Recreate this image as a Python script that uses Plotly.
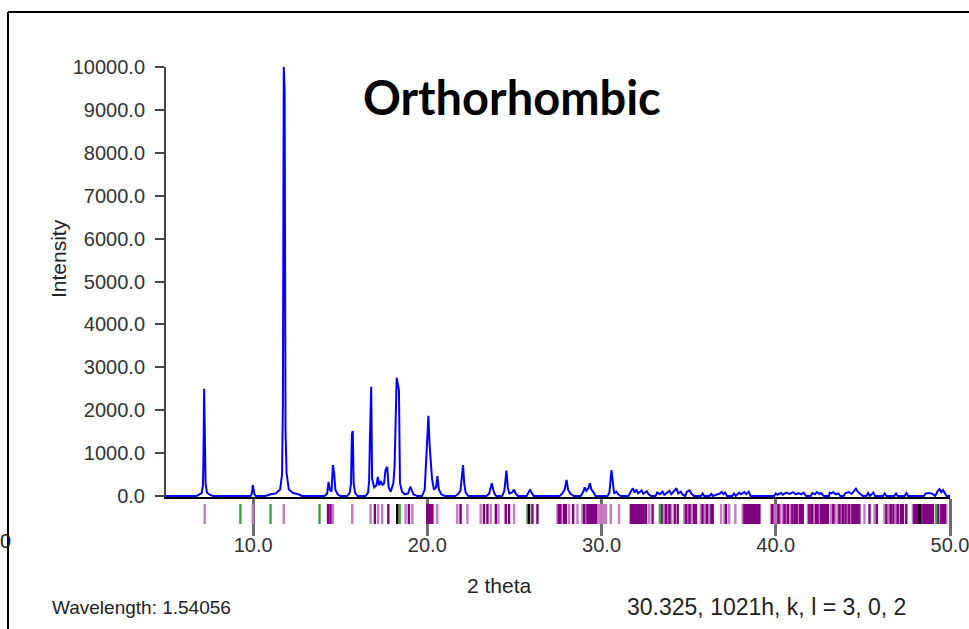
import plotly.graph_objects as go

# ---------------- data ----------------
two_theta = [5.0, 6.75, 6.9, 7.05, 7.12, 7.15, 7.19, 7.23, 7.27, 7.35, 7.5, 7.7,
             9.85, 9.93, 9.98, 10.03, 10.08, 10.15,
             10.7, 11.0, 11.3, 11.55, 11.66, 11.71, 11.76, 11.81, 11.86, 11.92, 12.05, 12.3, 12.6, 12.8,
             14.1, 14.25, 14.33, 14.4, 14.5, 14.58, 14.65, 14.72, 14.85, 15.0,
             15.4, 15.55, 15.62, 15.67, 15.72, 15.77, 15.85, 16.0,
             16.45, 16.6, 16.66, 16.7, 16.78, 16.83, 16.95, 17.08, 17.16, 17.24, 17.33, 17.42, 17.52, 17.6,
             17.7, 17.78, 17.9, 18.05, 18.12, 18.24, 18.37, 18.43, 18.55, 18.7, 18.9, 19.02, 19.1, 19.2, 19.4,
             19.7, 19.85, 19.94, 20.06, 20.13, 20.2, 20.27, 20.38, 20.5, 20.58, 20.66, 20.8, 21.0,
             21.6, 21.75, 21.9, 21.98, 22.05, 22.12, 22.2, 22.35,
             23.4, 23.55, 23.62, 23.7, 23.78, 23.85, 23.95,
             24.3, 24.42, 24.54, 24.62, 24.7, 24.85, 24.98, 25.06, 25.2,
             25.7, 25.8, 25.9, 25.98, 26.1,
             27.6, 27.75, 27.88, 27.99, 28.08, 28.2, 28.4,
             28.8, 28.95, 29.03, 29.12, 29.25, 29.33, 29.42, 29.55, 29.65,
             30.35, 30.45, 30.57, 30.65, 30.72, 30.85, 30.95, 31.1,
             31.55, 31.7, 31.8, 31.9, 32.0, 32.1, 32.3, 32.4, 32.6, 32.7, 32.85,
             33.1, 33.2, 33.35, 33.5, 33.6, 33.8, 33.9, 34.0, 34.2, 34.3, 34.4, 34.55, 34.65, 34.8,
             34.9, 35.05, 35.15, 35.3, 35.7, 35.8, 35.9, 36.2, 36.3, 36.4,
             36.8, 36.9, 37.0, 37.1, 37.2, 37.5, 37.6, 37.7, 37.9, 38.0, 38.2, 38.3, 38.45, 38.55,
             39.9, 40.0, 40.1, 40.3, 40.4, 40.6, 40.8, 41.0, 41.15, 41.3, 41.45, 41.6, 41.75,
             42.0, 42.1, 42.25, 42.35, 42.5, 42.6, 42.75,
             43.05, 43.1, 43.2, 43.3, 43.45, 43.6, 43.7,
             43.9, 44.0, 44.2, 44.35, 44.5, 44.6, 44.7, 44.85, 45.0,
             45.2, 45.3, 45.4, 45.6, 45.7, 46.15, 46.25, 46.35, 46.8, 46.9, 47.0, 47.4, 47.5, 47.6,
             48.5, 48.6, 48.8, 49.0, 49.15, 49.3, 49.4, 49.5, 49.6, 49.7, 49.8, 50.0]
intensity = [0, 0, 30, 70, 250, 840, 2500, 1730, 300, 80, 30, 0,
             0, 60, 256, 150, 40, 0,
             0, 40, 60, 150, 500, 2120, 10000, 9430, 1540, 540, 150, 70, 40, 0,
             0, 60, 330, 150, 100, 720, 545, 150, 40, 0,
             0, 80, 300, 1445, 1515, 300, 80, 0,
             0, 80, 350, 1266, 2548, 400, 200, 250, 443, 250, 350, 250, 300, 606,
             683, 200, 100, 300, 683, 2758, 2471, 300, 100, 40, 60, 217, 150, 40, 0,
             0, 150, 1033, 1872, 1190, 720, 400, 150, 200, 466, 150, 40, 0,
             0, 40, 120, 530, 720, 280, 80, 0,
             0, 60, 180, 295, 150, 60, 0,
             0, 120, 590, 200, 60, 80, 150, 60, 0,
             0, 60, 150, 80, 0,
             0, 60, 150, 373, 150, 60, 0,
             0, 100, 200, 120, 180, 295, 150, 80, 0,
             0, 80, 606, 200, 60, 100, 40, 0,
             0, 120, 180, 80, 150, 60, 130, 50, 110, 40, 0,
             0, 80, 40, 100, 30, 80, 120, 40, 120, 180, 60, 100, 30, 0,
             100, 130, 60, 0, 0, 60, 0, 0, 50, 0,
             60, 100, 40, 80, 0, 0, 60, 0, 80, 40, 90, 40, 100, 0,
             0, 60, 30, 70, 30, 80, 50, 90, 40, 70, 40, 80, 0,
             0, 70, 40, 90, 50, 70, 0,
             0, 80, 60, 90, 40, 60, 0,
             0, 70, 90, 50, 140, 170, 100, 60, 0,
             0, 70, 0, 80, 0, 0, 60, 0, 0, 60, 0, 0, 70, 0,
             0, 60, 70, 50, 0, 120, 160, 90, 140, 60, 0, 0]

marks_light = [7.22, 9.98, 11.76, 14.58, 15.69, 16.74, 17.18, 17.41, 18.75, 19.14, 20.57,
               21.72, 22.3, 23.06, 23.64, 24.08, 24.98, 27.47, 27.7, 28.14, 28.62, 28.9, 29.1,
               29.77, 29.9, 30.05, 30.15, 30.25, 30.53, 31.0, 32.74, 33.6, 33.8, 34.0, 34.75,
               34.95, 35.15, 35.7, 35.95, 36.15, 36.86, 37.05, 37.33, 37.68, 38.1, 39.73, 39.9,
               40.05, 40.25, 40.4, 40.6, 40.85, 41.0, 41.3, 41.85, 42.0, 42.15, 42.5, 43.18,
               43.4, 43.55, 43.75, 44.1, 44.3, 45.09, 45.67, 46.24, 46.5, 46.9, 47.1, 47.87,
               48.4, 49.4, 49.79]
marks_dark = [14.3, 14.44, 16.99, 17.76, 18.94, 20.0, 20.06, 20.12, 20.18, 20.24, 20.29,
              21.91, 23.25, 23.45, 23.93, 24.5, 24.69, 26.03, 26.32, 27.55, 27.62, 27.85, 27.95,
              28.37, 29.0, 29.2, 29.3, 29.4, 29.5, 29.6, 29.67, 31.68, 31.75, 31.82, 31.9,
              31.97, 32.05, 32.12, 32.2, 32.28, 32.35, 32.42, 32.55, 32.93, 33.45, 33.7, 33.9,
              34.2, 34.37, 34.85, 35.05, 35.3, 35.42, 35.8, 36.05, 36.3, 36.38, 37.15, 38.2,
              38.3, 38.4, 38.5, 38.6, 38.7, 38.8, 38.9, 39.0, 39.06, 39.8, 40.15, 40.5, 40.7,
              40.95, 41.1, 41.2, 41.4, 41.5, 41.55, 41.93, 42.08, 42.3, 42.4, 42.6, 42.7, 42.8,
              42.9, 42.99, 43.3, 43.65, 43.85, 44.0, 44.2, 44.4, 44.5, 44.6, 44.7, 44.8, 45.38,
              45.8, 46.35, 46.6, 46.75, 47.0, 47.2, 47.3, 47.49, 47.95, 48.05, 48.15, 48.35,
              48.5, 48.6, 48.7, 48.8, 48.9, 49.02, 49.3, 49.5, 49.6, 49.7]
marks_green = [9.27, 11.0, 13.81, 18.41, 25.75, 33.35, 49.21]
marks_black = [18.27, 25.84, 48.25]

x_ticks = [10, 20, 30, 40, 50]
y_ticks = [0, 1000, 2000, 3000, 4000, 5000, 6000, 7000, 8000, 9000, 10000]

title_text = "Orthorhombic"
x_title = "2 theta"
y_title = "Intensity"
left_note = "Wavelength: 1.54056"
right_note = "30.325, 1021h, k, l = 3, 0, 2"

# ---------------- layout helpers ----------------
W, H = 969, 629
def px(x):
    return x / W
def py(y):
    return 1 - y / H

FONT = "Liberation Sans, Arial, sans-serif"
TXT = "#222222"

def ticks_xy(vals):
    xs, ys = [], []
    for v in vals:
        xs += [v, v, None]
        ys += [0, 1, None]
    return xs, ys

fig = go.Figure()
fig.add_trace(go.Scatter(x=two_theta, y=intensity, mode="lines",
                         line=dict(color="#0000ff", width=2),
                         hoverinfo="skip", showlegend=False))

for vals, col, w in [(marks_light, "#c47ac4", 2.4), (marks_dark, "#800080", 2.4),
                     (marks_green, "#3f9f3f", 2.4), (marks_black, "#000000", 2.4)]:
    mx, my = ticks_xy(vals)
    fig.add_trace(go.Scatter(x=mx, y=my, mode="lines", xaxis="x", yaxis="y2",
                             line=dict(color=col, width=w),
                             hoverinfo="skip", showlegend=False))

y_lo = -25
fig.update_layout(
    template="none",
    width=W, height=H, autosize=False,
    margin=dict(l=0, r=0, t=0, b=0, pad=0),
    paper_bgcolor="white", plot_bgcolor="white",
    xaxis=dict(domain=[px(166), px(950)], range=[5, 50],
               tickvals=x_ticks, tickformat=".1f", automargin=False,
               ticks="outside", ticklen=37, tickwidth=3, tickcolor="#6e6e6e",
               showline=True, linecolor="#000000", linewidth=2,
               showgrid=False, zeroline=False, layer="below traces",
               ticklabeloverflow="allow", ticklabelstandoff=-8,
               tickfont=dict(family=FONT, size=20, color="#333333"),
               anchor="y"),
    yaxis=dict(domain=[py(496 + 25 * 429 / 10000), py(67)], range=[y_lo, 10000],
               tickvals=y_ticks, tickformat=".1f", automargin=False,
               ticks="outside", ticklen=9, tickwidth=2, tickcolor="#444444",
               showline=True, linecolor="#444444", linewidth=2,
               showgrid=False, zeroline=False, layer="below traces",
               tickfont=dict(family=FONT, size=20, color="#333333"),
               ticklabelstandoff=6),
    yaxis2=dict(domain=[py(524), py(504)], range=[0, 1], anchor="x", automargin=False,
                visible=False, showgrid=False, zeroline=False, fixedrange=True),
    showlegend=False,
)

ann = [
    dict(text=title_text, x=px(512), y=py(97), font=dict(family="Lato, Carlito, sans-serif",
         size=47, color="#000000", weight="bold")),
    dict(text=y_title, x=px(58), y=py(259), textangle=-90,
         font=dict(family=FONT, size=21, color=TXT)),
    dict(text=x_title, x=px(499), y=py(585), font=dict(family=FONT, size=21, color=TXT)),
    dict(text=left_note, x=px(50), y=py(607), xanchor="left",
         font=dict(family=FONT, size=19, color=TXT)),
    dict(text=right_note, x=px(625), y=py(607), xanchor="left",
         font=dict(family=FONT, size=23, color=TXT)),
    dict(text="0", x=px(13), y=py(541), xanchor="right",
         font=dict(family=FONT, size=20, color=TXT)),
]
for a in ann:
    a.setdefault("xanchor", "center")
    a.update(xref="paper", yref="paper", yanchor="middle", showarrow=False)
fig.update_layout(annotations=ann)

fig.update_layout(shapes=[
    dict(type="line", xref="paper", yref="paper", x0=px(8), x1=1, y0=py(12), y1=py(12),
         line=dict(color="#000000", width=2)),
    dict(type="line", xref="paper", yref="paper", x0=px(8), x1=px(8), y0=py(12), y1=0,
         line=dict(color="#000000", width=2)),
])

fig.write_html("out.html")
